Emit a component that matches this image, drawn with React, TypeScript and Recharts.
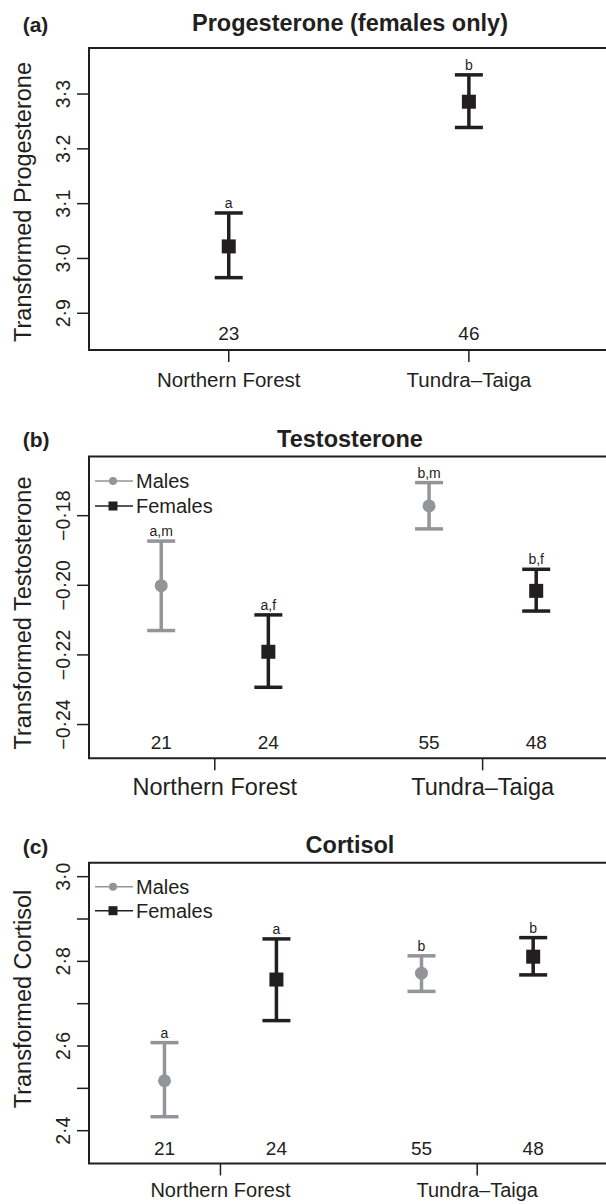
import React from "react";
import { ScatterChart, Scatter, XAxis, YAxis, ErrorBar, ReferenceArea } from "recharts";

const FONT = "'Liberation Sans', Arial, Helvetica, sans-serif";
const BLACK = "#231f20";
const GREY = "#939598";

const sites = ["Northern Forest", "Tundra–Taiga"];
const sitePos = [1, 2];

// (a) progesterone, females only
const progX = [1, 2];
const progMean = [3.022, 3.286];
const progLow = [2.965, 3.239];
const progHigh = [3.083, 3.335];
const progLetters = ["a", "b"];
const progN = [23, 46];
const progTicks = [2.9, 3.0, 3.1, 3.2, 3.3];

// (b) testosterone
const testMaleX = [0.8, 1.8];
const testMaleMean = [-0.2001, -0.1772];
const testMaleLow = [-0.213, -0.1838];
const testMaleHigh = [-0.1873, -0.1705];
const testMaleLetters = ["a,m", "b,m"];
const testMaleN = [21, 55];
const testFemaleX = [1.2, 2.2];
const testFemaleMean = [-0.2191, -0.2016];
const testFemaleLow = [-0.2293, -0.2074];
const testFemaleHigh = [-0.2085, -0.1954];
const testFemaleLetters = ["a,f", "b,f"];
const testFemaleN = [24, 48];
const testTicks = [-0.24, -0.22, -0.2, -0.18];

// (c) cortisol
const cortMaleX = [0.782, 1.783];
const cortMaleMean = [2.518, 2.772];
const cortMaleLow = [2.433, 2.729];
const cortMaleHigh = [2.608, 2.813];
const cortMaleLetters = ["a", "b"];
const cortMaleN = [21, 55];
const cortFemaleX = [1.218, 2.218];
const cortFemaleMean = [2.757, 2.811];
const cortFemaleLow = [2.66, 2.768];
const cortFemaleHigh = [2.853, 2.856];
const cortFemaleLetters = ["a", "b"];
const cortFemaleN = [24, 48];
const cortTicks = [2.4, 2.5, 2.6, 2.7, 2.8, 2.9, 3.0];
const cortLabelled = [2.4, 2.6, 2.8, 3.0];

type Series = {
  x: number[];
  mean: number[];
  low: number[];
  high: number[];
  letters: string[];
  n: number[];
  color: string;
  marker: "square" | "circle";
};

function fmt(v: number, digits: number) {
  return v.toFixed(digits).replace("-", "\u2212").replace(".", "\u00b7");
}

function YTick({ x, y, payload, digits, labelled }: any) {
  const v = payload.value;
  if (labelled && !labelled.some((l: number) => Math.abs(l - v) < 1e-6)) return null;
  return (
    <text
      x={x}
      y={y}
      transform={`rotate(-90 ${x} ${y})`}
      textAnchor="middle"
      fontSize={19.5}
      fill={BLACK}
      fontFamily={FONT}
    >
      {fmt(v, digits)}
    </text>
  );
}

function CatTick({ x, y, payload, size }: any) {
  const i = sitePos.indexOf(payload.value);
  return (
    <text x={x} y={y} dy="0.72em" textAnchor="middle" fontSize={size} fill={BLACK} fontFamily={FONT}>
      {sites[i]}
    </text>
  );
}

const markerShape = (s: Series) => (p: any) =>
  s.marker === "square" ? (
    <rect x={p.cx - 7} y={p.cy - 7} width={14} height={14} fill={s.color} />
  ) : (
    <circle cx={p.cx} cy={p.cy} r={6.5} fill={s.color} />
  );

const textShape = (key: string, size: number, lift: number) => (p: any) =>
  (
    <text x={p.cx} y={p.cy - lift} textAnchor="middle" fontSize={size} fill={BLACK} fontFamily={FONT}>
      {p.payload?.[key] ?? p[key]}
    </text>
  );

function LegendBox({ y }: { y: number[] }) {
  return (
    <g fontFamily={FONT}>
      <line x1={95} x2={133} y1={y[0]} y2={y[0]} stroke={GREY} strokeWidth={1.5} />
      <circle cx={113} cy={y[0]} r={4} fill={GREY} />
      <text x={136} y={y[0] + 7} fontSize={20} fill={BLACK}>Males</text>
      <line x1={95} x2={133} y1={y[1]} y2={y[1]} stroke={BLACK} strokeWidth={1.5} />
      <rect x={108.5} y={y[1] - 4.5} width={9} height={9} fill={BLACK} />
      <text x={136} y={y[1] + 7} fontSize={20} fill={BLACK}>Females</text>
    </g>
  );
}

function Panel(props: any) {
  const {
    top, height, marginTop, axisHeight, xDomain, yDomain, yTicks, labelled, digits,
    series, tag, title, titleY, yTitle, yTitleY, catSize, catMargin, countLift, legendY,
  } = props;
  const W = 620;
  return (
    <div style={{ position: "absolute", left: 0, top, width: W, height }}>
      <ScatterChart width={W} height={height} margin={{ top: marginTop, right: 8, bottom: 0, left: 0 }}>
        <XAxis
          type="number"
          dataKey="x"
          domain={xDomain}
          ticks={sitePos}
          allowDataOverflow
          axisLine={false}
          height={axisHeight}
          tickSize={12}
          tickMargin={catMargin}
          tickLine={{ stroke: BLACK, strokeWidth: 1.5 }}
          tick={(p: any) => <CatTick {...p} size={catSize} />}
        />
        <YAxis
          type="number"
          dataKey="y"
          domain={yDomain}
          ticks={yTicks}
          allowDataOverflow
          axisLine={false}
          width={89}
          tickSize={12}
          tickMargin={7}
          tickLine={{ stroke: BLACK, strokeWidth: 1.5 }}
          tick={(p: any) => <YTick {...p} digits={digits} labelled={labelled} />}
        />
        <ReferenceArea
          x1={xDomain[0]}
          x2={xDomain[1]}
          y1={yDomain[0]}
          y2={yDomain[1]}
          fill="none"
          fillOpacity={0}
          stroke={BLACK}
          strokeWidth={2}
        />
        {series.map((s: Series, k: number) => {
          const rows = s.x.map((xi, i) => ({
            x: xi,
            y: s.mean[i],
            err: [s.mean[i] - s.low[i], s.high[i] - s.mean[i]],
          }));
          const letters = s.x.map((xi, i) => ({ x: xi, y: s.high[i], letter: s.letters[i] }));
          const counts = s.x.map((xi, i) => ({ x: xi, y: yDomain[0], n: s.n[i] }));
          return (
            <React.Fragment key={k}>
              <Scatter data={rows} shape={markerShape(s)} isAnimationActive={false}>
                <ErrorBar
                  dataKey="err"
                  direction="y"
                  width={14}
                  strokeWidth={3.5}
                  stroke={s.color}
                  isAnimationActive={false}
                />
              </Scatter>
              <Scatter data={letters} shape={textShape("letter", 14, 5)} isAnimationActive={false} />
              <Scatter data={counts} shape={textShape("n", 19, countLift)} isAnimationActive={false} />
            </React.Fragment>
          );
        })}
        <text x={22.7} y={titleY + 0.5} fontSize={21} fontWeight="bold" fill={BLACK} fontFamily={FONT}>
          {tag}
        </text>
        <text x={350} y={titleY} textAnchor="middle" fontSize={23.5} fontWeight="bold" fill={BLACK} fontFamily={FONT}>
          {title}
        </text>
        <text
          x={31}
          y={yTitleY}
          transform={`rotate(-90 31 ${yTitleY})`}
          textAnchor="middle"
          fontSize={23.5}
          fill={BLACK}
          fontFamily={FONT}
        >
          {yTitle}
        </text>
        {legendY && <LegendBox y={legendY} />}
      </ScatterChart>
    </div>
  );
}

export default function App() {
  const prog: Series[] = [
    { x: progX, mean: progMean, low: progLow, high: progHigh, letters: progLetters, n: progN, color: BLACK, marker: "square" },
  ];
  const test: Series[] = [
    { x: testMaleX, mean: testMaleMean, low: testMaleLow, high: testMaleHigh, letters: testMaleLetters, n: testMaleN, color: GREY, marker: "circle" },
    { x: testFemaleX, mean: testFemaleMean, low: testFemaleLow, high: testFemaleHigh, letters: testFemaleLetters, n: testFemaleN, color: BLACK, marker: "square" },
  ];
  const cort: Series[] = [
    { x: cortMaleX, mean: cortMaleMean, low: cortMaleLow, high: cortMaleHigh, letters: cortMaleLetters, n: cortMaleN, color: GREY, marker: "circle" },
    { x: cortFemaleX, mean: cortFemaleMean, low: cortFemaleLow, high: cortFemaleHigh, letters: cortFemaleLetters, n: cortFemaleN, color: BLACK, marker: "square" },
  ];

  return (
    <div style={{ position: "absolute", left: 0, top: 0, width: 606, height: 1204, overflow: "hidden", background: "#fff" }}>
      <Panel
        top={0}
        height={400}
        marginTop={48}
        axisHeight={50}
        xDomain={[0.418, 2.596]}
        yDomain={[2.833, 3.384]}
        yTicks={progTicks}
        digits={1}
        series={prog}
        tag="(a)"
        title="Progesterone (females only)"
        titleY={31}
        yTitle="Transformed Progesterone"
        yTitleY={202}
        catSize={20.5}
        catMargin={10}
        countLift={10}
      />
      <Panel
        top={400}
        height={405}
        marginTop={56.5}
        axisHeight={46.7}
        xDomain={[0.5304, 2.483]}
        yDomain={[-0.2497, -0.163]}
        yTicks={testTicks}
        digits={2}
        series={test}
        tag="(b)"
        title="Testosterone"
        titleY={46.7}
        yTitle="Transformed Testosterone"
        yTitleY={213}
        catSize={23.5}
        catMargin={8}
        countLift={9}
        legendY={[81, 106]}
      />
      <Panel
        top={805}
        height={399}
        marginTop={57.7}
        axisHeight={40.5}
        xDomain={[0.488, 2.525]}
        yDomain={[2.3225, 3.033]}
        yTicks={cortTicks}
        labelled={cortLabelled}
        digits={1}
        series={cort}
        tag="(c)"
        title="Cortisol"
        titleY={48.3}
        yTitle="Transformed Cortisol"
        yTitleY={194}
        catSize={20}
        catMargin={7}
        countLift={8.5}
        legendY={[81.7, 105.7]}
      />
    </div>
  );
}
